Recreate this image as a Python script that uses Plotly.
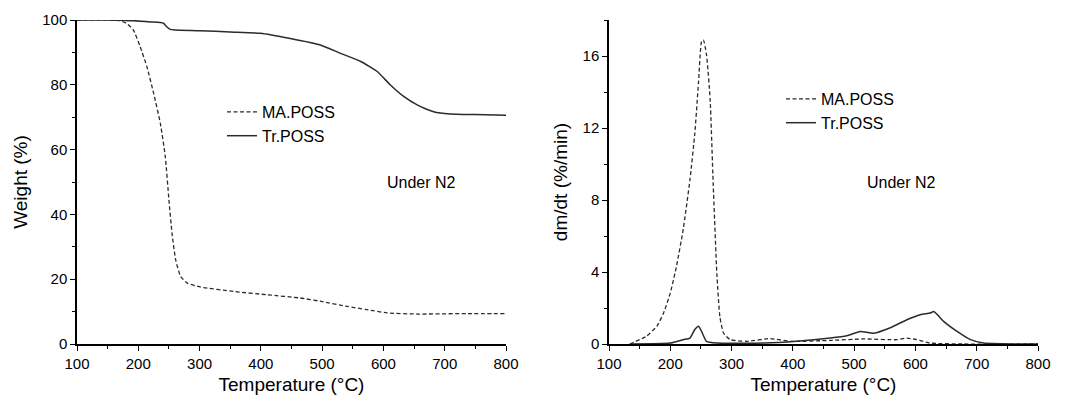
import plotly.graph_objects as go

# ---- data ----
tga_tr_T = [100, 150, 170, 192, 220, 241, 246, 252, 260, 301, 350, 399, 448, 497, 530, 563, 590, 611, 633, 655, 682, 709, 750, 800]
tga_tr_W = [100, 100, 99.9, 99.8, 99.4, 99.0, 98.0, 97.1, 96.9, 96.7, 96.3, 95.9, 94.3, 92.3, 89.7, 87.2, 84.1, 80.0, 76.4, 73.8, 71.7, 71.0, 70.8, 70.6]

tga_ma_T = [100, 150, 170, 182, 192, 203, 214, 225, 236, 244, 250, 255, 261, 269, 280, 301, 356, 410, 464, 497, 541, 573, 606, 655, 737, 800]
tga_ma_W = [100, 100, 99.8, 98.8, 96.9, 91.8, 85.6, 77.4, 68.1, 57.9, 44.5, 34.2, 26.0, 20.9, 18.8, 17.6, 16.2, 15.2, 14.2, 13.2, 11.6, 10.6, 9.6, 9.25, 9.4, 9.4]

dtg_ma_T = [134, 161, 178, 189, 200, 210, 221, 232, 240, 246, 251, 254, 259, 265, 270, 276, 281, 287, 298, 325, 363, 396, 461, 515, 570, 586, 602, 624, 679, 800]
dtg_ma_D = [0, 0.43, 0.98, 1.72, 2.83, 4.3, 6.35, 9.1, 11.7, 14.5, 16.8, 16.9, 16.1, 13.6, 8.9, 3.9, 1.5, 0.6, 0.24, 0.15, 0.3, 0.15, 0.2, 0.28, 0.24, 0.33, 0.24, 0.05, 0, 0]

dtg_tr_T = [134, 200, 221, 232, 240, 246, 251, 259, 276, 352, 406, 461, 488, 510, 532, 559, 586, 608, 624, 630, 646, 668, 690, 711, 760, 800]
dtg_tr_D = [0, 0.05, 0.24, 0.33, 0.8, 0.98, 0.7, 0.15, 0.05, 0.05, 0.15, 0.33, 0.46, 0.7, 0.6, 0.9, 1.35, 1.63, 1.72, 1.8, 1.26, 0.7, 0.24, 0.05, 0, 0]

x_ticks = [100, 200, 300, 400, 500, 600, 700, 800]
y1_ticks = [0, 20, 40, 60, 80, 100]
y2_ticks = [0, 4, 8, 12, 16]

series_names = ["MA.POSS", "Tr.POSS"]
annotation_text = "Under N2"

FONT = "Liberation Sans, Arial, sans-serif"
LC = "#2b2b2b"
DASH = "4px,2.5px"

fig = go.Figure()

fig.add_trace(go.Scatter(x=tga_ma_T, y=tga_ma_W, mode="lines", name=series_names[0],
                         line=dict(color=LC, width=1.3, dash=DASH, shape="spline", smoothing=0.5),
                         xaxis="x", yaxis="y", legend="legend"))
fig.add_trace(go.Scatter(x=tga_tr_T, y=tga_tr_W, mode="lines", name=series_names[1],
                         line=dict(color=LC, width=1.5, shape="spline", smoothing=0.5),
                         xaxis="x", yaxis="y", legend="legend"))
fig.add_trace(go.Scatter(x=dtg_ma_T, y=dtg_ma_D, mode="lines", name=series_names[0],
                         line=dict(color=LC, width=1.3, dash=DASH, shape="spline", smoothing=0.5),
                         xaxis="x2", yaxis="y2", legend="legend2"))
fig.add_trace(go.Scatter(x=dtg_tr_T, y=dtg_tr_D, mode="lines", name=series_names[1],
                         line=dict(color=LC, width=1.5, shape="spline", smoothing=0.5),
                         xaxis="x2", yaxis="y2", legend="legend2"))

W, H = 1070, 403
xd1 = [77 / W, 506 / W]
xd2 = [609 / W, 1038 / W]
yd = [(H - 344) / H, (H - 20) / H]

axis_common = dict(
    showline=True, linecolor="black", linewidth=1.5, ticks="outside", ticklen=5, tickwidth=1.3,
    tickcolor="black", showgrid=False, zeroline=False, mirror=False, automargin=False,
    tickfont=dict(family=FONT, size=15, color="black"),
)
title_font = dict(family=FONT, size=19, color="black")

fig.update_layout(
    width=W, height=H, paper_bgcolor="white", plot_bgcolor="white",
    margin=dict(l=0, r=0, t=0, b=0),
    font=dict(family=FONT, color="black"),
    xaxis=dict(domain=xd1, range=[100, 800], tickvals=x_ticks, anchor="y",
               title=dict(text="Temperature (°C)", font=title_font, standoff=7),
               minor=dict(dtick=50, ticklen=3, tickcolor="black", ticks="outside"), **axis_common),
    yaxis=dict(domain=yd, range=[0, 100], tickvals=y1_ticks, anchor="x",
               title=dict(text="Weight (%)", font=title_font, standoff=10),
               minor=dict(dtick=10, ticklen=3, tickcolor="black", ticks="outside"), **axis_common),
    xaxis2=dict(domain=xd2, range=[100, 800], tickvals=x_ticks, anchor="y2",
                title=dict(text="Temperature (°C)", font=title_font, standoff=7),
                minor=dict(dtick=50, ticklen=3, tickcolor="black", ticks="outside"), **axis_common),
    yaxis2=dict(domain=yd, range=[0, 18], tickvals=y2_ticks, anchor="x2",
                title=dict(text="dm/dt (%/min)", font=title_font, standoff=10),
                minor=dict(dtick=2, ticklen=3, tickcolor="black", ticks="outside"), **axis_common),
    legend=dict(x=222 / W, y=(H - 95) / H, xref="paper", yref="paper",
                xanchor="left", yanchor="top", bgcolor="rgba(0,0,0,0)",
                font=dict(family=FONT, size=16, color="black"), tracegroupgap=0),
    legend2=dict(x=781 / W, y=(H - 82) / H, xref="paper", yref="paper",
                 xanchor="left", yanchor="top", bgcolor="rgba(0,0,0,0)",
                 font=dict(family=FONT, size=16, color="black"), tracegroupgap=0),
    annotations=[
        dict(text=annotation_text, x=662, y=50, xref="x", yref="y", showarrow=False,
             font=dict(family=FONT, size=16, color="black")),
        dict(text=annotation_text, x=577, y=9, xref="x2", yref="y2", showarrow=False,
             font=dict(family=FONT, size=16, color="black")),
    ],
)

fig.write_html("out.html", config={"displayModeBar": False},
               post_script="document.body.style.margin='0';document.body.style.overflow='hidden';")
